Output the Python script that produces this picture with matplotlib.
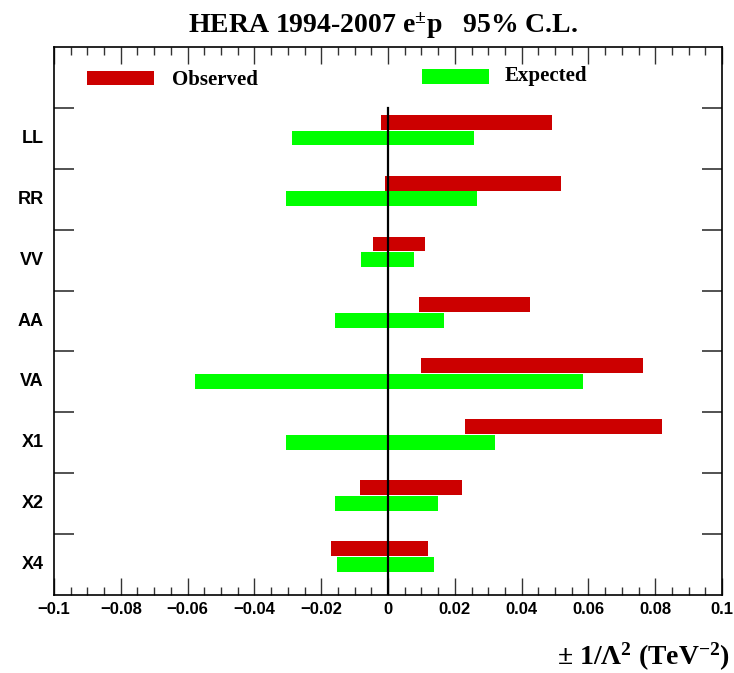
import matplotlib
matplotlib.use('Agg')
import matplotlib.pyplot as plt
import numpy as np
from matplotlib.ticker import MultipleLocator, FixedLocator

plt.rcParams['mathtext.fontset'] = 'custom'
plt.rcParams['mathtext.rm'] = 'Liberation Serif:bold'
plt.rcParams['mathtext.it'] = 'Liberation Serif:bold:italic'
plt.rcParams['mathtext.bf'] = 'Liberation Serif:bold'

# models, top to bottom
models = ['LL', 'RR', 'VV', 'AA', 'VA', 'X1', 'X2', 'X4']
obs_lo = [-0.002, -0.001, -0.0045, 0.0093, 0.0100, 0.0230, -0.0085, -0.0171]
obs_hi = [0.0490, 0.0518, 0.0111, 0.0425, 0.0762, 0.0819, 0.0221, 0.0120]
exp_lo = [-0.0288, -0.0304, -0.0082, -0.0159, -0.0577, -0.0306, -0.0160, -0.0152]
exp_hi = [0.0256, 0.0265, 0.0079, 0.0167, 0.0583, 0.0320, 0.0150, 0.0139]

red = '#cc0000'
green = '#00ff00'

fig = plt.figure(figsize=(7.34, 6.73), dpi=100)
ax = fig.add_axes([54/734, 1-595/673, 668/734, 548/673])

n = len(models)
ypos = np.arange(n)[::-1]  # LL at top (7), X4 at bottom (0)
h = 0.245

obs_w = np.array(obs_hi) - np.array(obs_lo)
exp_w = np.array(exp_hi) - np.array(exp_lo)
ax.barh(ypos + 0.765, obs_w, left=obs_lo, height=h, color=red, linewidth=0)
ax.barh(ypos + 0.505, exp_w, left=exp_lo, height=h, color=green, linewidth=0)

ax.plot([0, 0], [0, n], color='black', lw=1.6, zorder=3)

# legend drawn like the ROOT one
ax.barh(8.49, 0.02, left=-0.09, height=0.24, color=red, linewidth=0)
ax.text(-0.0648, 8.46, 'Observed', fontfamily='Liberation Serif', fontweight='bold',
        fontsize=15, va='center', ha='left')
ax.barh(8.52, 0.02, left=0.0102, height=0.24, color=green, linewidth=0)
ax.text(0.035, 8.52, 'Expected', fontfamily='Liberation Serif', fontweight='bold',
        fontsize=15, va='center', ha='left')

ax.set_xlim(-0.1, 0.1)
ax.set_ylim(0, 9)

ax.xaxis.set_major_locator(MultipleLocator(0.02))
ax.xaxis.set_minor_locator(MultipleLocator(0.005))
ax.yaxis.set_major_locator(FixedLocator(range(1, n + 1)))
ax.yaxis.set_minor_locator(FixedLocator([]))

xt = np.round(np.arange(-0.1, 0.1001, 0.02), 2)
ax.set_xticks(xt)
ax.set_xticklabels(['0' if v == 0 else ('%g' % v).replace('-', '\u2212') for v in xt],
                   fontfamily='Liberation Sans', fontweight='bold', fontsize=12)
ax.set_yticklabels([])

ax.tick_params(axis='x', which='major', direction='in', length=12, width=1.0,
               top=True, bottom=True, color='#333333', pad=5)
ax.tick_params(axis='x', which='minor', direction='in', length=6, width=1.0,
               top=True, bottom=True, color='#333333')
ax.tick_params(axis='y', which='major', direction='in', length=14.5, width=1.3,
               left=True, right=True, color='#444444')

for sp in ax.spines.values():
    sp.set_linewidth(1.2)

for i, m in enumerate(models):
    ax.text(-10/668, (ypos[i] + 0.5) / 9, m, transform=ax.transAxes,
            ha='right', va='center', fontfamily='Liberation Sans',
            fontweight='bold', fontsize=13)

fig.text(383/734, 1 - 33/673, r'HERA 1994-2007 e$^{\pm}$p   95% C.L.',
         ha='center', va='baseline', fontfamily='Liberation Serif',
         fontweight='bold', fontsize=20)
fig.text(730/734, 1 - 665/673, r'$\pm$ 1/$\Lambda^{2}$ (TeV$^{-2}$)',
         ha='right', va='baseline', fontfamily='Liberation Serif',
         fontweight='bold', fontsize=20)

fig.savefig('out.png', dpi=100)
